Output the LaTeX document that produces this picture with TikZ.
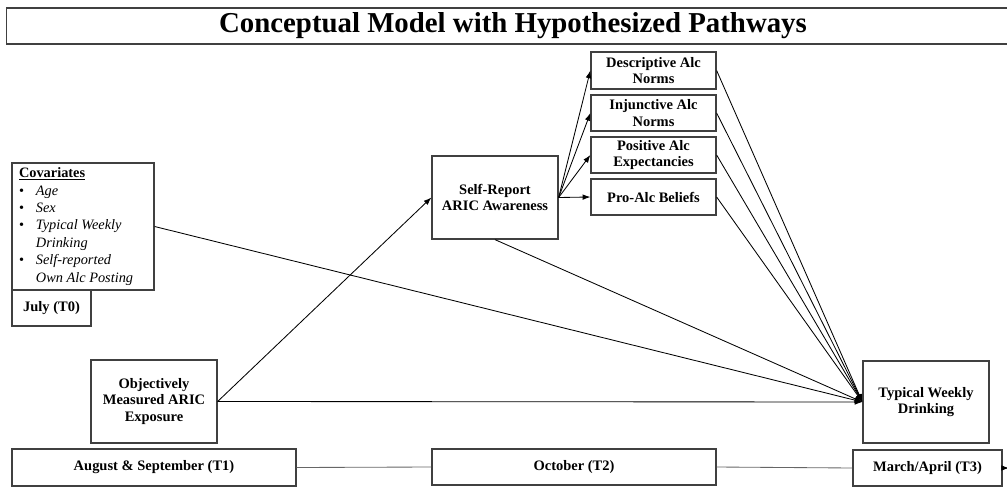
\documentclass[tikz,border=0pt]{standalone}
\usepackage{fontspec}
\setmainfont{Liberation Serif}
\usepackage{tikz}
\usetikzlibrary{positioning}
\usetikzlibrary{arrows.meta}
\newcommand{\pxu}{0.025cm}
\newcommand{\cvbullet}{\makebox[12pt][l]{\textbullet}}
\newcommand{\cvindent}{\hspace*{12pt}}

\begin{document}
\begin{tikzpicture}[x=0.025cm,y=-0.025cm,
    box/.style={draw=black!75,line width=0.9pt,fill=white,inner sep=2pt,
                align=center,font=\fontsize{10.3}{11.8}\selectfont\bfseries},
    path/.style={line width=0.6pt,-{Latex[length=5.5pt,width=4pt]}},
    tline/.style={draw=black!60,line width=0.6pt}]
                    \useasboundingbox (0,0) rectangle (1007,487);
                    % title
                    \node at (513,26) [box,minimum width=1013*\pxu,minimum height=36*\pxu,
                          font=\fontsize{20.5}{24}\selectfont\bfseries] (nTitle)
                    {Conceptual Model with Hypothesized Pathways};
                    % covariates and T0
                    \node at (83,226.5) [box,minimum width=142*\pxu,minimum height=127*\pxu,
                          align=flush left,text width=142*\pxu-10pt,inner xsep=5pt,inner ysep=3pt,
                          font=\fontsize{10.2}{12.4}\selectfont] (nCov)
                    {\textbf{\underline{Covariates}}\\
                     \cvbullet\textit{Age}\\
                     \cvbullet\textit{Sex}\\
                     \cvbullet\textit{Typical Weekly}\\
                     \cvindent\textit{Drinking}\\
                     \cvbullet\textit{Self-reported}\\
                     \cvindent\textit{Own Alc Posting}};
                    \node at (51.5,308) [box,minimum width=79*\pxu,minimum height=36*\pxu] (nT0) {July (T0)};
                    % T1 measures
                    \node at (154,401.5) [box,minimum width=126*\pxu,minimum height=83*\pxu] (nObj)
                    {Objectively\\Measured ARIC\\Exposure};
                    % T2 measures
                    \node at (495,197.5) [box,minimum width=126*\pxu,minimum height=83*\pxu] (nAware)
                    {Self-Report\\ARIC Awareness};
                    \node at (653.5,70.5) [box,minimum width=125*\pxu,minimum height=37*\pxu] (nDesc)
                    {Descriptive Alc\\Norms};
                    \node at (653.5,113)  [box,minimum width=125*\pxu,minimum height=36*\pxu] (nInj)
                    {Injunctive Alc\\Norms};
                    \node at (653.5,155)  [box,minimum width=125*\pxu,minimum height=36*\pxu] (nPos)
                    {Positive Alc\\Expectancies};
                    \node at (653.5,197)  [box,minimum width=125*\pxu,minimum height=36*\pxu] (nPro)
                    {Pro-Alc Beliefs};
                    % T3 outcome
                    \node at (926,402) [box,minimum width=126*\pxu,minimum height=82*\pxu] (nOut)
                    {Typical Weekly\\Drinking};
                    % timeline
                    \node at (154,467.5) [box,minimum width=284*\pxu,minimum height=37*\pxu] (nT1)
                    {August \& September (T1)};
                    \node at (574,467)   [box,minimum width=284*\pxu,minimum height=36*\pxu] (nT2)
                    {October (T2)};
                    \node at (927.5,468) [box,minimum width=149*\pxu,minimum height=36*\pxu] (nT3)
                    {March/April (T3)};
                    \coordinate (cEnd) at (1009,468);
                    \draw[tline] (nT1.east) -- (nT2.west) ;
                    \draw[tline] (nT2.east) -- (nT3.west) ;
                    \draw[path]  (nT3.east) -- (cEnd) ;
                    % exposure to awareness to norms
                    \draw[path] (nObj.east) -- (nAware.west) ;
                    \draw[path] (nAware.east) -- (nDesc.west) ;
                    \draw[path] (nAware.east) -- (nInj.west) ;
                    \draw[path] (nAware.east) -- (nPos.west) ;
                    \draw[path] (nAware.east) -- (nPro.west) ;
                    % everything to the outcome
                    \draw[path] (nDesc.east) -- (nOut.west) ;
                    \draw[path] (nInj.east)  -- (nOut.west) ;
                    \draw[path] (nPos.east)  -- (nOut.west) ;
                    \draw[path] (nPro.east)  -- (nOut.west) ;
                    \draw[path] (nAware.south) -- (nOut.west) ;
                    \draw[path] (nCov.east) -- (nOut.west) ;
                    \draw[path] (nObj.east) -- (nOut.west) ;
                \end{tikzpicture}
\end{document}
